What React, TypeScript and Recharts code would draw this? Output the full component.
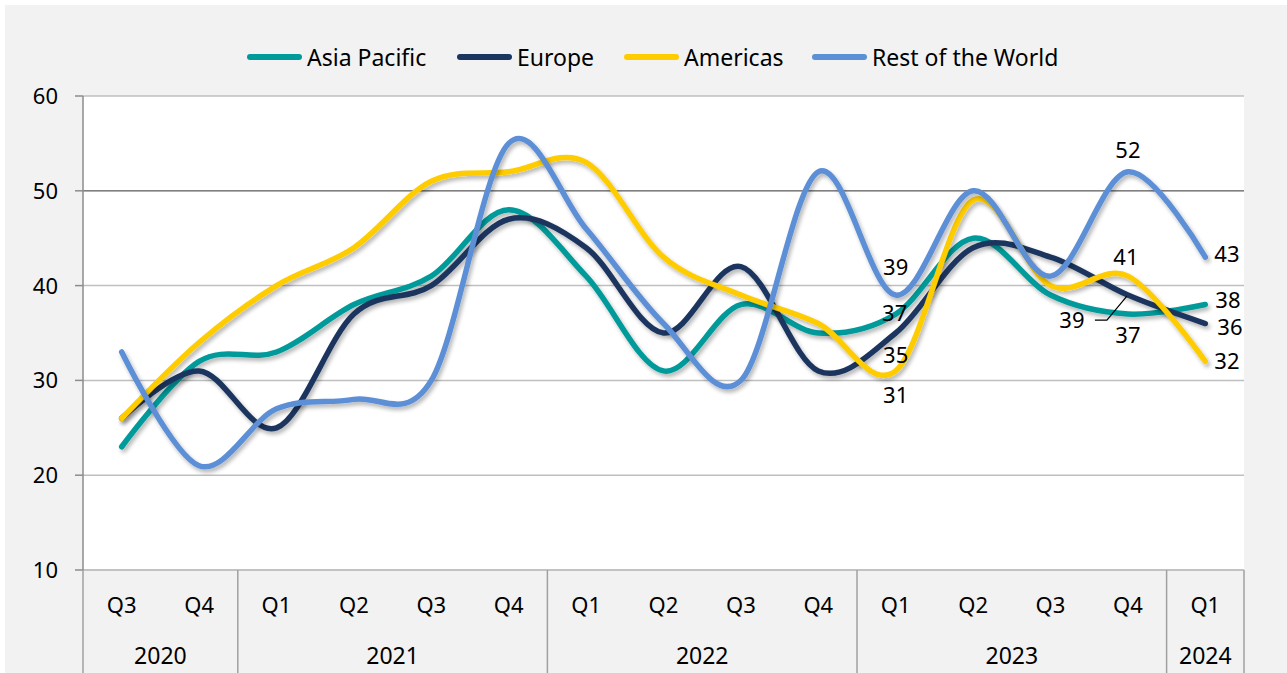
import React from 'react';
import {
  LineChart,
  Line,
  XAxis,
  YAxis,
  CartesianGrid,
  ReferenceLine,
  LabelList,
} from 'recharts';

// 四半期ラベルと年
const quarters = ['Q3', 'Q4', 'Q1', 'Q2', 'Q3', 'Q4', 'Q1', 'Q2', 'Q3', 'Q4', 'Q1', 'Q2', 'Q3', 'Q4', 'Q1'];
const years = ['2020', '2020', '2021', '2021', '2021', '2021', '2022', '2022', '2022', '2022', '2023', '2023', '2023', '2023', '2024'];

// 各地域の値
const asiaPacific = [23, 32, 33, 38, 41, 48, 41, 31, 38, 35, 37, 45, 39, 37, 38];
const europe = [26, 31, 25, 37, 40, 47, 44, 35, 42, 31, 35, 44, 43, 39, 36];
const americas = [26, 34, 40, 44, 51, 52, 53, 43, 39, 36, 31, 49, 40, 41, 32];
const restOfWorld = [33, 21, 27, 28, 30, 55, 46, 36, 30, 52, 39, 50, 41, 52, 43];

const yTicks = [10, 20, 30, 40, 50, 60];

const data = quarters.map((q, i) => ({
  key: `${years[i]}-${q}`,
  q,
  year: years[i],
  ap: asiaPacific[i],
  eu: europe[i],
  am: americas[i],
  row: restOfWorld[i],
}));

const series = [
  { key: 'ap', name: 'Asia Pacific', color: '#009A9A' },
  { key: 'eu', name: 'Europe', color: '#1B365F' },
  { key: 'am', name: 'Americas', color: '#FFCC00' },
  { key: 'row', name: 'Rest of the World', color: '#5B8FD6' },
];

// ラベルの位置 (系列 -> インデックス -> オフセット)
const labelPos: Record<string, Record<number, { dx: number; dy: number; anchor?: string; leader?: boolean }>> = {
  row: { 10: { dx: 0, dy: -28 }, 13: { dx: 0, dy: -22 }, 14: { dx: 9, dy: -3, anchor: 'start' } },
  ap: { 10: { dx: -1, dy: -1 }, 13: { dx: 0, dy: 21 }, 14: { dx: 10, dy: -4, anchor: 'start' } },
  eu: { 10: { dx: 0, dy: 22 }, 13: { dx: -56, dy: 25, leader: true }, 14: { dx: 12, dy: 4, anchor: 'start' } },
  am: { 10: { dx: 0, dy: 24 }, 13: { dx: -2, dy: -19 }, 14: { dx: 9, dy: 0, anchor: 'start' } },
};

const FONT = '"Noto Sans", "Open Sans", sans-serif';
const PLOT_LEFT = 83;
const PLOT_RIGHT = 1244;
const PLOT_BOTTOM = 570;
const CHART_H = 673;
const BAND = (PLOT_RIGHT - PLOT_LEFT) / quarters.length;

// Excelの平滑線に近いカーディナル曲線
const excelCurve = (context: any) => {
  const k = 1 / 6;
  let x0 = NaN, y0 = NaN, x1 = NaN, y1 = NaN, x2 = NaN, y2 = NaN;
  let pt = 0;
  let line = NaN;
  const seg = (x: number, y: number) => {
    context.bezierCurveTo(x1 + k * (x2 - x0), y1 + k * (y2 - y0), x2 + k * (x1 - x), y2 + k * (y1 - y), x2, y2);
  };
  return {
    areaStart() { line = 0; },
    areaEnd() { line = NaN; },
    lineStart() {
      x0 = x1 = x2 = y0 = y1 = y2 = NaN;
      pt = 0;
    },
    lineEnd() {
      if (pt === 2) context.lineTo(x2, y2);
      else if (pt === 3) seg(x1, y1);
      if (line || (line !== 0 && pt === 1)) context.closePath();
      line = 1 - line;
    },
    point(x: number, y: number) {
      x = +x; y = +y;
      if (pt === 0) {
        pt = 1;
        line ? context.lineTo(x, y) : context.moveTo(x, y);
      } else if (pt === 1) {
        pt = 2;
        x1 = x; y1 = y;
      } else {
        pt = 3;
        seg(x, y);
      }
      x0 = x1; x1 = x2; x2 = x;
      y0 = y1; y1 = y2; y2 = y;
    },
  };
};

const makeLabel = (sKey: string) => (props: any) => {
  const { x, y, value, index } = props;
  const p = labelPos[sKey]?.[index];
  if (!p) return null;
  const tx = x + p.dx;
  const ty = y + p.dy;
  return (
    <g>
      {p.leader && (
        <polyline
          points={`${tx + 23},${ty} ${tx + 35},${ty} ${x - 1},${y + 1}`}
          fill="none"
          stroke="#000"
          strokeWidth={1.2}
        />
      )}
      <text
        x={tx}
        y={ty}
        dy="0.36em"
        textAnchor={p.anchor || 'middle'}
        fontSize={22}
        fontFamily={FONT}
        fill="#000"
      >
        {value}
      </text>
    </g>
  );
};

const QuarterTick = (props: any) => {
  const { x, index } = props;
  return (
    <text x={x} y={605} dy="0.36em" textAnchor="middle" fontSize={22} fontFamily={FONT} fill="#000">
      {quarters[index]}
    </text>
  );
};

const YearTick = (props: any) => {
  const { x, index } = props;
  const yr = years[index];
  const isFirst = index === 0 || years[index - 1] !== yr;
  if (!isFirst) return null;
  let n = 0;
  while (years[index + n] === yr) n++;
  const left = x - BAND / 2;
  const right = left + n * BAND;
  const last = index + n >= years.length;
  return (
    <g>
      <line x1={left} y1={PLOT_BOTTOM} x2={left} y2={CHART_H} stroke="#a0a0a0" strokeWidth={1.5} />
      {last && <line x1={right} y1={PLOT_BOTTOM} x2={right} y2={CHART_H} stroke="#a0a0a0" strokeWidth={1.5} />}
      <text x={(left + right) / 2} y={656} dy="0.36em" textAnchor="middle" fontSize={23} fontFamily={FONT} fill="#000">
        {yr}
      </text>
    </g>
  );
};

const YTick = (props: any) => {
  const { x, y, payload } = props;
  return (
    <text x={x - 15} y={y} dy="0.36em" textAnchor="end" fontSize={22} fontFamily={FONT} fill="#000">
      {payload.value}
    </text>
  );
};

const legendLeft = [247, 457, 624, 812];

export default function App() {
  return (
    <div style={{ position: 'absolute', left: 0, top: 0, width: 1287, height: CHART_H, background: '#fff', overflow: 'hidden' }}>
      <div style={{ position: 'absolute', left: 5, top: 5, right: 0, bottom: 0, background: '#f2f2f2' }} />
      <svg width={0} height={0} style={{ position: 'absolute' }}>
        <defs>
          <filter id="lineShadow" x="-10%" y="-10%" width="120%" height="130%">
            <feGaussianBlur in="SourceAlpha" stdDeviation="2.2" />
            <feOffset dx="2" dy="3" result="b" />
            <feComponentTransfer>
              <feFuncA type="linear" slope="0.3" />
            </feComponentTransfer>
            <feMerge>
              <feMergeNode />
              <feMergeNode in="SourceGraphic" />
            </feMerge>
          </filter>
        </defs>
      </svg>
      {/* 凡例 */}
      {series.map((s, i) => (
        <div
          key={s.key}
          style={{
            position: 'absolute',
            left: legendLeft[i],
            top: 40,
            height: 34,
            display: 'flex',
            alignItems: 'center',
            fontFamily: FONT,
            fontSize: 23,
            color: '#000',
            whiteSpace: 'nowrap',
          }}
        >
          <span style={{ width: 55, height: 6, borderRadius: 3, background: s.color, marginRight: 5 }} />
          <span>{s.name}</span>
        </div>
      ))}
      <div style={{ position: 'absolute', left: 0, top: 0 }}>
        <LineChart width={1287} height={CHART_H} data={data} margin={{ top: 96, right: 1287 - PLOT_RIGHT, bottom: 0, left: 0 }}>
          <CartesianGrid vertical={false} stroke="#bfbfbf" strokeWidth={1.5} fill="#ffffff" />
          <ReferenceLine y={50} stroke="#808080" strokeWidth={1.5} />
          <XAxis
            xAxisId="q"
            dataKey="key"
            height={52}
            padding={{ left: BAND / 2, right: BAND / 2 }}
            axisLine={{ stroke: '#bfbfbf', strokeWidth: 1.5 }}
            tickLine={false}
            interval={0}
            tick={<QuarterTick />}
          />
          <XAxis
            xAxisId="year"
            dataKey="key"
            height={51}
            padding={{ left: BAND / 2, right: BAND / 2 }}
            axisLine={false}
            tickLine={false}
            interval={0}
            tick={<YearTick />}
          />
          <YAxis
            domain={[10, 60]}
            ticks={yTicks}
            width={PLOT_LEFT}
            interval={0}
            axisLine={{ stroke: '#8c8c8c', strokeWidth: 1.5 }}
            tickLine={{ stroke: '#8c8c8c', strokeWidth: 1.5 }}
            tickSize={8}
            tick={<YTick />}
          />
          {series.map((s) => (
            <Line
              key={s.key}
              xAxisId="q"
              dataKey={s.key}
              name={s.name}
              type={excelCurve as any}
              stroke={s.color}
              strokeWidth={5.5}
              strokeLinecap="round"
              dot={false}
              activeDot={false}
              filter="url(#lineShadow)"
              isAnimationActive={false}
            >
              <LabelList dataKey={s.key} content={makeLabel(s.key)} />
            </Line>
          ))}
        </LineChart>
      </div>
    </div>
  );
}
